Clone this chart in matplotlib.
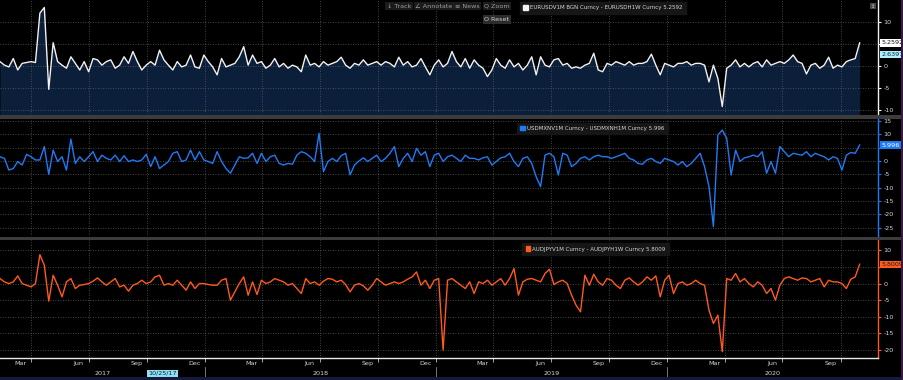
import numpy as np
import pandas as pd
import matplotlib
matplotlib.use("Agg")
import matplotlib.pyplot as plt
import matplotlib.dates as mdates
from matplotlib.patches import Rectangle, Patch
from matplotlib import font_manager

# weekly samples (1W vol minus 1M vol style spreads)
dates = pd.date_range("2017-02-11", periods=195, freq="7D")

eurusd = [
    1.0, 0.2, -0.2, 1.7, -0.9, 0.6, 0.8, 1.0, 0.8, 12.0, 13.3, -5.3, 5.3,
    1.0, 0.2, -0.5, 2.1, 0.6, -0.9, 1.0, -1.3, 1.7, 1.4, 0.2, 1.0, 1.4, -0.5,
    0.2, 2.1, 0.6, 3.3, 1.0, -0.9, 0.2, 1.0, 0.2, 3.6, 1.4, 0.2, -0.9, 1.0,
    -0.2, 0.2, 2.5, -0.2, -0.5, 2.5, 1.0, -0.2, -2.0, 1.7, -0.2, 0.2, 0.6, 2.1,
    4.4, 0.2, 2.5, 0.6, 1.0, -0.5, 0.2, 1.7, -0.2, 0.6, -0.5, 0.2, -0.2,
    -1.3, 2.5, 0.2, 0.6, -0.2, 1.0, 0.2, 0.6, 1.0, 2.0, 0.2, -0.5, 0.6, 0.2,
    1.4, 0.2, 0.6, 1.0, 0.2, 1.0, 0.6, -0.2, 2.0, 0.2, 1.0, -0.2, 0.2, 1.7,
    -0.2, -2.0, 0.2, 1.4, -0.2, 0.6, 3.3, 1.0, -0.2, 1.7, -0.5, 1.4, 0.2, -0.5,
    -2.4, -0.9, 1.7, 0.2, -0.5, 1.4, -0.2, 0.6, -0.9, 0.2, 2.1, -2.0, 2.1, 0.2,
    -0.2, 1.4, 1.7, 0.2, 0.6, -0.5, -0.2, -0.5, 0.2, 0.6, 2.9, -0.9,
    -1.3, 0.6, 0.2, 1.0, 0.6, 0.2, 1.0, 0.2, 0.6, 0.6, 1.0, 2.7, 0.2, -2.0,
    0.6, 0.2, -0.2, 0.6, 0.6, 1.0, 0.2, 0.6, 0.6, 0.2, -3.6, 0.2, -2.8, -9.2,
    -0.5, 0.2, 1.4, -0.2, 0.6, -0.2, 0.6, 1.0, -0.2, 1.4, 0.2, 0.6, 1.0, 0.6,
    1.4, 2.5, 1.0, 0.6, -1.8, 0.2, 0.6, -0.5, 0.2, 2.0, -0.5, 0.2, -0.2, 1.0,
    1.4, 1.7, 5.2592,
]

usdmxn = [
    1.6, 1.0, -3.4, -2.8, -0.2, -1.5, 2.5, 1.6, 0.4, 0.4,
    5.4, -5.0, 4.1, -0.2, 1.6, -3.4, 8.2, -0.9, 1.6, -0.2,
    1.6, 3.5, -0.2, 2.2, 1.0, 0.4, 2.2, -0.2, 2.0, -0.2,
    0.4, -0.2, 0.4, 2.5, -2.1, 1.6, -2.8, -1.5, -0.2, 2.9,
    3.5, -0.2, 0.4, 4.1, 0.4, 3.5, 0.4, -0.2, -0.9, 3.5,
    -0.2, -2.8, -4.6, -1.5, 1.6, 1.0, 1.2, 2.9, -0.9, 2.9,
    -0.2, 1.6, 2.2, -0.9, -1.5, -0.9, -1.2, 2.2,
    3.5, 2.9, 1.6, -0.2, 10.4, -4.0, -0.2, 1.0, -0.2, 2.0,
    2.9, -5.2, -1.5, 0.0, 1.2, -0.2, 1.0, 2.2, -0.2, 1.0,
    2.9, 5.4, -2.1, 1.0, 2.9, -0.2, 4.75, 2.2, 3.5, -2.1,
    2.2, 2.9, -0.2, 1.6, 2.2, 1.0, -0.2, 2.2, 1.0, 1.0,
    0.4, 1.2, 1.6, -1.5, -0.2, 1.2, 1.6, 2.9, -0.2, -2.1,
    1.0, 1.6, -0.9, -5.9, -9.6, 2.2, 2.9, 1.6, -5.25, 2.9,
    2.2, -2.1, -0.9, 1.0, 1.6, 0.4, 1.6, 2.2,
    1.6, 1.6, 1.0, 1.6, 2.2, 2.9, 1.0, 0.4, -0.9, -1.2,
    0.4, 1.0, -0.2, -0.9, 1.0, 0.4, -0.2, -1.5, -0.2, -2.1,
    -0.9, 1.0, 2.9, -2.1, -9.6, -24.6, 9.75, 11.6, 8.5, -5.25,
    4.1, -0.2, 1.2, 1.6, 2.2, 1.6, 3.5, -4.6, -0.2, -4.6,
    5.4, 3.5, 1.6, 2.9, 2.5, 2.2, 3.5, 1.6, 2.9, 2.2,
    1.6, 0.4, 1.6, 1.0, -3.4, 2.2, 3.2, 2.9, 5.996,
]

audjpy = [
    1.5, 0.5, 0.0, 0.5, 2.3, 0.0, -0.5, -1.0, 0.0, 8.7,
    5.5, -5.3, 2.5, -0.5, -4.0, 0.5, 1.5, -1.5, -0.5, -0.3,
    0.0, 0.7, 1.7, 0.5, -0.5, 0.5, 1.5, -1.0, -0.5, -2.3,
    -0.5, 0.0, 1.0, 0.0, 0.5, 2.0, 2.5, -0.5, 0.0, -0.5,
    1.0, -0.5, -2.0, 0.5, -1.5, 0.0, 0.0, -0.3, -0.5, -0.5,
    1.0, 1.5, -5.0, -2.5, 0.0, 2.0, -3.5, 0.5, -3.3, 1.0,
    0.0, 0.5, 1.5, 1.0, 0.5, -0.5, 0.0, -1.5,
    -3.0, 1.5, 0.0, 0.5, -0.5, 0.7, 1.5, 1.3, 0.5, 1.0,
    -0.3, -2.5, -0.5, 0.0, -0.7, -2.0, -0.5, 1.5, 0.5, -0.5,
    0.0, 0.5, 0.0, 0.5, 1.3, 2.0, 3.5, -0.5, 1.0, -1.5,
    1.0, 1.5, -20.0, 1.0, 1.5, 0.5, -0.5, -1.5, 0.5, -3.0,
    0.5, 0.0, 1.0, -0.5, 0.5, 1.5, -0.5, 1.5, 4.5, -3.5,
    0.5, 1.3, 1.5, 1.0, 0.5, 3.0, 4.3, -0.3, 0.5, 1.0,
    0.0, -3.5, -6.5, -8.5, 2.5, -0.5, 2.8, 0.5,
    -0.5, 1.5, 1.0, -0.5, -1.5, 1.0, 1.7, 0.5, -0.5, 0.5,
    2.0, 1.0, 2.3, -4.0, 1.0, 2.5, -3.0, 0.0, 0.5, -0.5,
    0.0, 1.0, 0.0, -0.5, -8.0, -12.0, -9.5, -20.5, 1.5, 1.0,
    3.0, 0.5, 1.5, 0.0, -1.0, 0.5, -0.5, -3.0, -1.5, -5.0,
    -0.5, 1.5, 2.0, 1.5, 1.0, 1.7, 1.5, 0.5, 1.0, 1.5,
    -1.0, 1.0, 0.5, 0.5, 0.0, -1.5, 1.3, 2.0, 5.8009,
]

series_labels = [
    "EURUSDV1M BGN Curncy - EURUSDH1W Curncy 5.2592",
    "USDMXNV1M Curncy - USDMXNH1M Curncy 5.996",
    "AUDJPYV1M Curncy - AUDJPYH1W Curncy 5.8009",
]
last_tags = ["5.2592", "5.996", "5.8009"]
ticks_top = [-10, -5, 0, 5, 10]
ticks_mid = [-25, -20, -15, -10, -5, 0, 5, 10, 15]
ticks_bot = [-20, -15, -10, -5, 0, 5, 10]
years = [2017, 2018, 2019, 2020]

WHITE = "#f2f2f2"
BLUE = "#1f7bf4"
ORANGE = "#ff5a1e"
NAVY = "#0b1f3b"
GRID = "#5e5e5e"
TXT = "#d6d6d6"

avail = {f.name for f in font_manager.fontManager.ttflist}
if "Liberation Sans Narrow" in avail:
    plt.rcParams["font.family"] = ["Liberation Sans Narrow", "DejaVu Sans"]
    FS, LFS = 5.8, 5.6
else:
    plt.rcParams["font.family"] = ["DejaVu Sans"]
    FS, LFS = 4.6, 4.0

W, H = 904, 380
x0 = pd.Timestamp("2017-02-11")
x1 = pd.Timestamp("2020-11-29")


def box(top, bottom):
    return [0, 1 - bottom / H, 878 / W, (bottom - top) / H]


fig = plt.figure(figsize=(W / 100, H / 100), dpi=100, facecolor="black")

panels = [
    (box(0, 114), eurusd, WHITE, (-10.9, 15.0), ticks_top),
    (box(119, 236), usdmxn, BLUE, (-28.1, 15.75), ticks_mid),
    (box(240, 358), audjpy, ORANGE, (-22.4, 13.1), ticks_bot),
]

axes = []
for i, (rect, vals, col, ylim, yt) in enumerate(panels):
    ax = fig.add_axes(rect)
    ax.set_facecolor("black")
    if i == 0:
        ax.fill_between(dates, vals, ylim[0] - 5, color=NAVY, lw=0, zorder=1)
    ax.plot(dates, vals, color=col, lw=1.0, zorder=3)
    ax.set_xlim(x0, x1)
    ax.set_ylim(*ylim)
    # the "5" label sits under the last-value tag in the original
    ax.set_yticks(yt, labels=["" if t == 5 else str(t) for t in yt])
    ax.yaxis.tick_right()
    ax.tick_params(axis="y", length=2.5, width=0.8, color=col, labelcolor=TXT,
                   labelsize=FS, pad=1.5)
    ax.xaxis.set_major_locator(mdates.MonthLocator(bymonth=[1, 4, 7, 10]))
    ax.tick_params(axis="x", which="both", length=0, labelbottom=False)
    ax.grid(True, which="major", color=GRID, linestyle=(0, (1, 2)), linewidth=0.6)
    for s in ["top", "left", "bottom"]:
        ax.spines[s].set_visible(False)
    ax.spines["right"].set_color(col)
    ax.spines["right"].set_linewidth(1.0)

    leg = ax.legend(handles=[Patch(facecolor=col, edgecolor=col)], labels=[series_labels[i]],
                    loc="upper left", bbox_to_anchor=([0.592, 0.589, 0.595][i], [0.985, 0.97, 0.975][i]),
                    fontsize=LFS, frameon=True, facecolor="#161616", edgecolor="#161616",
                    framealpha=1.0, handlelength=0.8, handleheight=0.9, handletextpad=0.4,
                    borderpad=0.6, borderaxespad=0, labelcolor=TXT)
    leg.get_frame().set_boxstyle("square", pad=0)
    leg.set_zorder(6)

    tag_col = {0: ("white", "#111111"), 1: (BLUE, "white"), 2: (ORANGE, "#1a1a1a")}[i]
    ax.text(1.004, vals[-1], last_tags[i], transform=ax.get_yaxis_transform(), ha="left",
            va="center", fontsize=FS, color=tag_col[1], clip_on=False, zorder=7,
            bbox=dict(boxstyle="square,pad=0.18", fc=tag_col[0], ec="none"))
    axes.append(ax)

# secondary cyan tag on the top panel
axes[0].text(1.004, 2.6397, "2.6397", transform=axes[0].get_yaxis_transform(), ha="left",
             va="center", fontsize=FS, color="#0b2030", clip_on=False, zorder=7,
             bbox=dict(boxstyle="square,pad=0.18", fc="#aef0ff", ec="none"))

# bottom date axis
ax3 = axes[2]
ax3.spines["bottom"].set_visible(True)
ax3.spines["bottom"].set_color("#e6e6e6")
ax3.spines["bottom"].set_linewidth(1.0)
ax3.xaxis.set_minor_locator(mdates.MonthLocator(bymonth=[3, 6, 9, 12], bymonthday=15))
ax3.xaxis.set_minor_formatter(mdates.DateFormatter("%b"))
ax3.tick_params(axis="x", which="major", length=3, width=0.6, color="#bdbdbd",
                direction="out", labelbottom=False)
ax3.tick_params(axis="x", which="minor", length=0, labelbottom=True, labelsize=FS,
                labelcolor=TXT, pad=2)

trans = ax3.get_xaxis_transform()
for yr in years:
    lo = max(pd.Timestamp(f"{yr}-01-01"), x0)
    hi = min(pd.Timestamp(f"{yr + 1}-01-01"), x1)
    mid = lo + (hi - lo) / 2
    ax3.text(mid, -0.128, str(yr), transform=trans, ha="center", va="center",
             fontsize=FS, color=TXT, clip_on=False)
    if yr > years[0]:
        ax3.plot([pd.Timestamp(f"{yr}-01-01")] * 2, [-0.08, -0.17], transform=trans,
                 color="#8a8a8a", lw=0.6, clip_on=False)

ax3.text(pd.Timestamp("2017-10-26"), -0.128, "10/25/17", transform=trans, ha="center",
         va="center", fontsize=FS, color="#0b2030", clip_on=False,
         bbox=dict(boxstyle="square,pad=0.15", fc="#8fe0f5", ec="none"))

# separators and frame bits
for top, bottom, c in [(115.5, 118.5, "#3c3c3c"), (236.5, 239.5, "#3c3c3c"),
                       (376.5, 380, "#131a3c")]:
    fig.patches.append(Rectangle((0, 1 - bottom / H), 1, (bottom - top) / H,
                                 transform=fig.transFigure, fc=c, ec="none", zorder=5))
fig.patches.append(Rectangle((901 / W, 0), 3 / W, 1, transform=fig.transFigure,
                             fc="#3a1a44", ec="none", zorder=5))

# toolbar
for xp, label in [(399, "\u2193 Track"), (434, "\u2220 Annotate"), (467, "\u2261 News"),
                  (497, "Q Zoom")]:
    fig.text(xp / W, 1 - 6 / H, label, ha="center", va="center", fontsize=FS,
             color="#9c9c9c", zorder=8,
             bbox=dict(boxstyle="square,pad=0.25", fc="#1b1b1b", ec="none"))
fig.text(497 / W, 1 - 19.5 / H, "O Reset", ha="center", va="center", fontsize=FS,
         color="#d0d0d0", zorder=8,
         bbox=dict(boxstyle="square,pad=0.3", fc="#2c2c2c", ec="none"))
fig.text(873 / W, 1 - 6 / H, "\u2195", ha="center", va="center", fontsize=FS - 1,
         color="#cfcfcf", zorder=8,
         bbox=dict(boxstyle="square,pad=0.15", fc="#4a4a4a", ec="none"))

fig.savefig("out.png", dpi=100, facecolor="black")
